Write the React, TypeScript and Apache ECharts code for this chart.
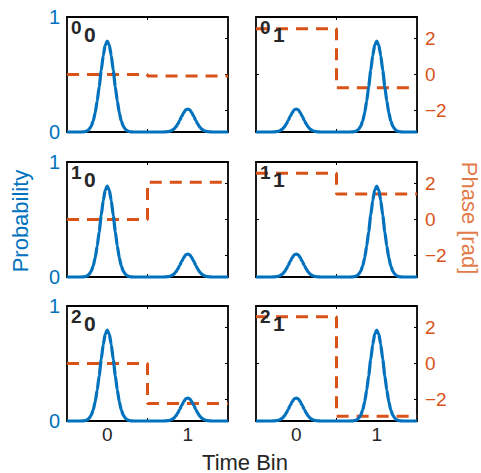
import React, { useEffect, useRef } from 'react';
import * as echarts from 'echarts';

// Time axis samples (time bins)
const TIME_SAMPLES = [
  -0.5, -0.475, -0.45, -0.425, -0.4, -0.375, -0.35, -0.325, -0.3, -0.275,
  -0.25, -0.225, -0.2, -0.175, -0.15, -0.125, -0.1, -0.075, -0.05, -0.025,
  0, 0.025, 0.05, 0.075, 0.1, 0.125, 0.15, 0.175, 0.2, 0.225,
  0.25, 0.275, 0.3, 0.325, 0.35, 0.375, 0.4, 0.425, 0.45, 0.475,
  0.5, 0.525, 0.55, 0.575, 0.6, 0.625, 0.65, 0.675, 0.7, 0.725,
  0.75, 0.775, 0.8, 0.825, 0.85, 0.875, 0.9, 0.925, 0.95, 0.975,
  1, 1.025, 1.05, 1.075, 1.1, 1.125, 1.15, 1.175, 1.2, 1.225,
  1.25, 1.275, 1.3, 1.325, 1.35, 1.375, 1.4, 1.425, 1.45, 1.475,
  1.5,
];
// Probability: big peak in bin 0, small peak in bin 1
const PROB_EARLY = [
  0, 0, 0, 0, 0, 0, 0, 0, 0.001, 0.004,
  0.01, 0.024, 0.05, 0.095, 0.167, 0.268, 0.395, 0.535, 0.664, 0.757,
  0.79, 0.757, 0.664, 0.535, 0.395, 0.268, 0.167, 0.095, 0.05, 0.024,
  0.01, 0.004, 0.001, 0, 0, 0, 0, 0, 0, 0,
  0, 0, 0, 0, 0, 0, 0, 0, 0, 0.001,
  0.003, 0.006, 0.013, 0.024, 0.042, 0.068, 0.1, 0.136, 0.168, 0.192,
  0.2, 0.192, 0.168, 0.136, 0.1, 0.068, 0.042, 0.024, 0.013, 0.006,
  0.003, 0.001, 0, 0, 0, 0, 0, 0, 0, 0,
  0,
];
// small peak in bin 0, big peak in bin 1
const PROB_LATE = [
  0, 0, 0, 0, 0, 0, 0, 0, 0, 0.001,
  0.003, 0.006, 0.013, 0.024, 0.042, 0.068, 0.1, 0.136, 0.168, 0.192,
  0.2, 0.192, 0.168, 0.136, 0.1, 0.068, 0.042, 0.024, 0.013, 0.006,
  0.003, 0.001, 0, 0, 0, 0, 0, 0, 0, 0,
  0, 0, 0, 0, 0, 0, 0, 0, 0.001, 0.004,
  0.01, 0.024, 0.05, 0.095, 0.167, 0.268, 0.395, 0.535, 0.664, 0.757,
  0.79, 0.757, 0.664, 0.535, 0.395, 0.268, 0.167, 0.095, 0.05, 0.024,
  0.01, 0.004, 0.001, 0, 0, 0, 0, 0, 0, 0,
  0,
];
const PHASE_BINS = [0, 1];
// Phase per bin [bin0, bin1] for each panel (row-major)
const PHASE_00 = [0, -0.08];
const PHASE_01 = [2.55, -0.74];
const PHASE_10 = [0, 2.07];
const PHASE_11 = [2.58, 1.42];
const PHASE_20 = [0, -2.23];
const PHASE_21 = [2.6, -2.93];
const PANEL_PHASES = [PHASE_00, PHASE_01, PHASE_10, PHASE_11, PHASE_20, PHASE_21];
const PANEL_LABELS = [['0', '0'], ['0', '1'], ['1', '0'], ['1', '1'], ['2', '0'], ['2', '1']];
const X_TICK_LABELS = [0, 1];
const PROB_TICK_LABELS = [0, 1];
const PHASE_TICK_LABELS = [-2, 0, 2];

const X_MIN = -0.5;
const X_MAX = 1.5;
const PHASE_MIN = -3.2;
const PHASE_MAX = 3.2;

const BLUE = '#0072BD';
const ORANGE = '#D95319';
const DARK = '#262626';
const FONT = '"Liberation Sans", Arial, Helvetica, sans-serif';

const COL_LEFT = [67, 256];
const ROW_TOP = [17, 162, 306];
const PANEL_W = 161;
const PANEL_H = 115;

export default function App() {
  const ref = useRef<HTMLDivElement>(null);

  useEffect(() => {
    if (!ref.current) return;
    const chart = echarts.init(ref.current, null, { renderer: 'svg' });

    const grids: any[] = [];
    const xAxes: any[] = [];
    const yAxes: any[] = [];
    const series: any[] = [];
    const graphics: any[] = [];

    const axisLine = { show: true, onZero: false, lineStyle: { color: '#000', width: 1.8 } };
    const tickStyle = { color: '#000', width: 1 };

    for (let i = 0; i < 6; i++) {
      const r = Math.floor(i / 2);
      const c = i % 2;
      const left = COL_LEFT[c];
      const top = ROW_TOP[r];
      grids.push({ left, top, width: PANEL_W, height: PANEL_H, containLabel: false });

      xAxes.push({
        gridIndex: i, type: 'value', min: X_MIN, max: X_MAX, position: 'bottom',
        axisLine,
        axisTick: { show: true, inside: true, length: 3, customValues: [0.5], lineStyle: tickStyle },
        axisLabel: {
          show: r === 2, customValues: X_TICK_LABELS, color: DARK, fontSize: 19, fontFamily: FONT, margin: 4,
        },
        splitLine: { show: false },
      });
      xAxes.push({
        gridIndex: i, type: 'value', min: X_MIN, max: X_MAX, position: 'top',
        axisLine,
        axisTick: { show: true, inside: true, length: 3, customValues: [0.5], lineStyle: tickStyle },
        axisLabel: { show: false },
        splitLine: { show: false },
      });
      yAxes.push({
        gridIndex: i, type: 'value', min: 0, max: 1, position: 'left',
        axisLine,
        axisTick: { show: true, inside: true, length: 3, customValues: [0.5], lineStyle: tickStyle },
        axisLabel: {
          show: c === 0, customValues: PROB_TICK_LABELS, color: BLUE, fontSize: 20, fontFamily: FONT, margin: 7,
        },
        splitLine: { show: false },
      });
      yAxes.push({
        gridIndex: i, type: 'value', min: PHASE_MIN, max: PHASE_MAX, position: 'right',
        axisLine,
        axisTick: { show: true, inside: true, length: 3, customValues: PHASE_TICK_LABELS, lineStyle: tickStyle },
        axisLabel: {
          show: c === 1, customValues: PHASE_TICK_LABELS, color: ORANGE, fontSize: 19, fontFamily: FONT, margin: 8,
          formatter: (v: number) => (v < 0 ? '\u2212' + Math.abs(v) : String(v)),
        },
        splitLine: { show: false },
      });

      const ph = PANEL_PHASES[i];
      series.push({
        type: 'line', xAxisIndex: 2 * i, yAxisIndex: 2 * i + 1,
        data: [[X_MIN, ph[0]], ...PHASE_BINS.map((b, k) => [b, ph[k]]), [X_MAX, ph[1]]],
        step: 'middle', showSymbol: false, symbol: 'none', z: 2,
        lineStyle: { color: ORANGE, width: 3, type: [12, 8] },
      });
      const prob = c === 0 ? PROB_EARLY : PROB_LATE;
      series.push({
        type: 'line', xAxisIndex: 2 * i, yAxisIndex: 2 * i,
        data: TIME_SAMPLES.map((t, k) => [t, prob[k]]),
        smooth: 0.2, smoothMonotone: 'x', showSymbol: false, symbol: 'none', z: 3, clip: false,
        lineStyle: { color: BLUE, width: 3.2 },
      });

      const lbl = PANEL_LABELS[i];
      graphics.push({
        type: 'text', x: left + 4, y: top + 1, z: 100,
        style: { text: lbl[0], fontSize: 19, fontWeight: 'bold', fontFamily: FONT, fill: DARK, textVerticalAlign: 'top' },
      });
      graphics.push({
        type: 'text', x: left + 17, y: top + 7, z: 100,
        style: { text: lbl[1], fontSize: 21, fontWeight: 'bold', fontFamily: FONT, fill: DARK, textVerticalAlign: 'top' },
      });
    }

    graphics.push({
      type: 'text', x: 20, y: 221, rotation: Math.PI / 2, z: 100,
      style: { text: 'Probability', fontSize: 22, fontFamily: FONT, fill: BLUE, textAlign: 'center', textVerticalAlign: 'middle' },
    });
    graphics.push({
      type: 'text', x: 469, y: 218, rotation: -Math.PI / 2, z: 100,
      style: { text: 'Phase [rad]', fontSize: 22, fontFamily: FONT, fill: '#E27B4B', textAlign: 'center', textVerticalAlign: 'middle' },
    });
    graphics.push({
      type: 'text', x: 245, y: 462, z: 100,
      style: { text: 'Time Bin', fontSize: 22, fontFamily: FONT, fill: DARK, textAlign: 'center', textVerticalAlign: 'middle' },
    });

    chart.setOption({
      animation: false,
      backgroundColor: '#fff',
      grid: grids,
      xAxis: xAxes,
      yAxis: yAxes,
      series,
      graphic: graphics,
    });

    return () => chart.dispose();
  }, []);

  return <div ref={ref} style={{ position: 'fixed', left: 0, top: 0, width: 481, height: 473 }} />;
}
